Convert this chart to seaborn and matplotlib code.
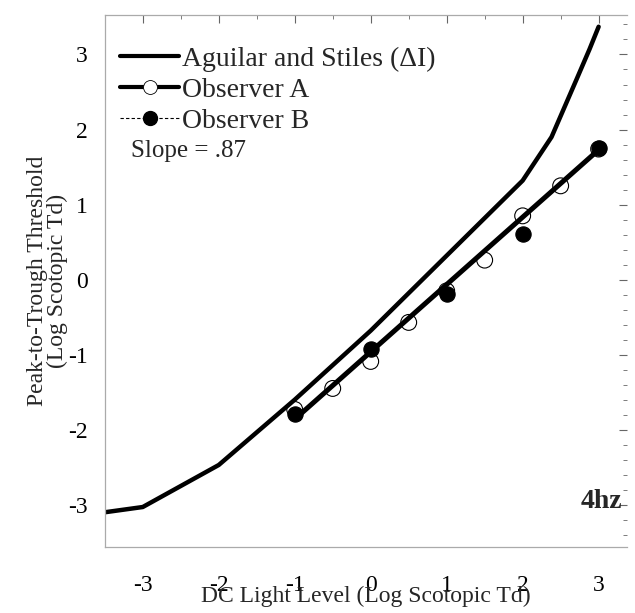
import numpy as np
import pandas as pd
import matplotlib
matplotlib.use("Agg")
import matplotlib.pyplot as plt
import seaborn as sns
from matplotlib.lines import Line2D
from matplotlib.ticker import MultipleLocator

# ---------------------------------------------------------------------------
# Data (log scotopic Td)
# ---------------------------------------------------------------------------
aguilar_x = [-3.5, -3.0, -2.0, -1.0, 0.0, 1.0, 2.0, 2.38, 2.71, 2.88, 3.0]
aguilar_y = [-3.1, -3.03, -2.47, -1.6, -0.68, 0.32, 1.32, 1.9, 2.67, 3.07, 3.37]

obs_a_x = [-1.0, -0.5, 0.0, 0.5, 1.0, 1.5, 2.0, 2.5, 3.0]
obs_a_y = [-1.73, -1.45, -1.09, -0.57, -0.15, 0.26, 0.85, 1.25, 1.74]

obs_b_x = [-1.0, 0.0, 1.0, 2.0, 3.0]
obs_b_y = [-1.79, -0.93, -0.19, 0.61, 1.76]

# linear fit drawn through the observers' data (slope ~ .87)
fit_x = [-1.0, 3.0]
fit_y = [-1.86, 1.73]

x_ticks = [-3, -2, -1, 0, 1, 2, 3]
y_ticks = [-3, -2, -1, 0, 1, 2, 3]

# ---------------------------------------------------------------------------
# Plot
# ---------------------------------------------------------------------------
sns.set_theme(style="white")
plt.rcParams['font.family'] = ['Liberation Serif', 'DejaVu Serif']
plt.rcParams['axes.unicode_minus'] = False

fig = plt.figure(figsize=(6.35, 6.13), dpi=100)
ax = fig.add_axes([0.165, 0.108, 0.822, 0.868])

sns.lineplot(x=aguilar_x, y=aguilar_y, ax=ax, color='black', lw=3.2,
             sort=False, estimator=None)
sns.lineplot(x=fit_x, y=fit_y, ax=ax, color='black', lw=3.6,
             sort=False, estimator=None)
sns.scatterplot(x=obs_a_x, y=obs_a_y, ax=ax, s=130, facecolor='none',
                edgecolor='black', linewidth=0.8, zorder=4)
sns.scatterplot(x=obs_b_x, y=obs_b_y, ax=ax, s=120, color='black',
                edgecolor='black', zorder=5)

ax.set_xlim(-3.5, 3.37)
ax.set_ylim(-3.56, 3.53)
ax.set_xticks(x_ticks)
ax.set_yticks(y_ticks)
ax.xaxis.set_minor_locator(MultipleLocator(0.5))
ax.yaxis.set_minor_locator(MultipleLocator(0.2))
ax.tick_params(axis='both', which='both', direction='in', colors='#666666',
               labelcolor='black', top=True, right=True)
ax.tick_params(axis='x', which='major', length=6, width=0.8, pad=20, labelsize=17)
ax.tick_params(axis='y', which='major', length=6, width=0.8, pad=12, labelsize=17)
ax.tick_params(which='minor', length=3, width=0.6)
for side, spine in ax.spines.items():
    spine.set_color('#aaaaaa')
    spine.set_linewidth(0.9)
ax.spines['right'].set_visible(False)

ax.set_xlabel('DC Light Level (Log Scotopic Td)', fontsize=17, labelpad=-7)
ax.set_ylabel('Peak-to-Trough Threshold\n(Log Scotopic Td)', fontsize=17,
              labelpad=0, linespacing=0.95)

handles = [
    Line2D([], [], color='black', lw=3.0),
    Line2D([], [], color='black', lw=3.0, marker='o', markersize=10,
           markerfacecolor='white', markeredgecolor='black', markeredgewidth=0.6),
    Line2D([], [], color='black', lw=0.8, ls=(0, (3, 2)), marker='o',
           markersize=10, markerfacecolor='black'),
]
labels = ['Aguilar and Stiles (ΔI)', 'Observer A', 'Observer B']
ax.legend(handles, labels, loc='upper left', bbox_to_anchor=(0.03, 0.94),
          frameon=False, fontsize=20, handlelength=2.1, handletextpad=0.1,
          labelspacing=0.2, borderpad=0, borderaxespad=0)

ax.text(0.05, 0.724, 'Slope = .87', transform=ax.transAxes, fontsize=18,
        ha='left', va='bottom')
ax.text(0.992, 0.085, '4hz', transform=ax.transAxes, fontsize=20,
        fontweight='bold', ha='right', va='center')

fig.savefig('out.png', dpi=100)
